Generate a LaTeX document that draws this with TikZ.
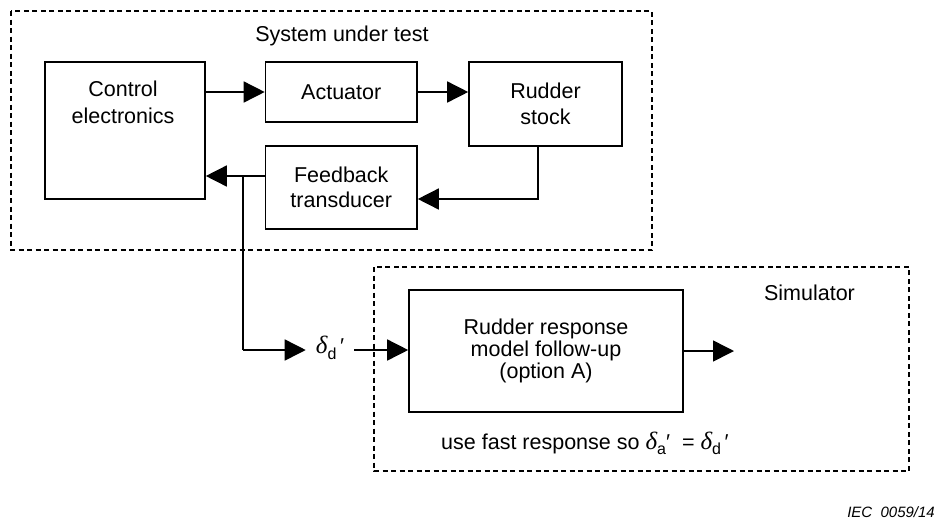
\documentclass[tikz,border=0pt]{standalone}
\usepackage{fontspec}
\setmainfont{Liberation Sans}
\newfontfamily\grk{Liberation Serif}
\usetikzlibrary{arrows.meta,calc}
\newcommand{\dsym}{{\grk\itshape\fontsize{25}{26}\selectfont δ}}
\begin{document}
\begin{tikzpicture}[x=1pt,y=-1pt,
  font=\fontsize{21.5}{26}\selectfont,
  blk/.style={draw,line width=1.6pt,inner sep=0pt,align=center},
  frame/.style={draw,line width=1.1pt,dash pattern=on 5pt off 3.5pt},
  arr/.style={line width=1.5pt,-{Triangle[length=21pt,width=21pt]}},
  conn/.style={line width=1.5pt},
  lbl/.style={inner sep=0pt,align=center}]
\useasboundingbox (0,0) rectangle (941,528);
% frames
\draw[frame] (11,11) rectangle (652,250);
\draw[frame] (374,267) rectangle (909,471);
\node[lbl] (sut) at (342,36) {System under test};
\node[lbl] (sim) at (809.5,293) {Simulator};
% blocks
\node[blk,minimum width=160pt,minimum height=137pt] (ce) at (125,130.5) {};
\node[lbl,font=\fontsize{21.5}{27}\selectfont] (cetxt) at (123,102.5) {Control\\electronics};
\node[blk,minimum width=151.5pt,minimum height=60pt] (act) at (341.25,92) {Actuator};
\node[blk,minimum width=153pt,minimum height=84pt] (rud) at (545.5,104) {Rudder\\stock};
\node[blk,minimum width=151.5pt,minimum height=83pt,font=\fontsize{21.5}{25}\selectfont] (fb) at (341.25,187.5) {Feedback\\transducer};
\node[blk,minimum width=274pt,minimum height=122pt,font=\fontsize{21.5}{22}\selectfont] (rr) at (546,351) {Rudder response\\model follow-up\\(option A)};
% label
\node[lbl,inner xsep=10pt,inner ysep=2pt] (dd) at (330,348) {\dsym\raisebox{-6pt}{\fontsize{16}{18}\selectfont d}\,′};
\node[lbl,anchor=west] (fast) at (441,443) {use fast response so \dsym\raisebox{-5pt}{\fontsize{16}{18}\selectfont a}′\ \ =\ \dsym\raisebox{-5pt}{\fontsize{16}{18}\selectfont d}\,′};
\node[lbl,anchor=east,font=\fontsize{15}{18}\selectfont\itshape] (iec) at (935,512) {IEC\ \ 0059/14};
% coordinates
\coordinate (rs) at (538,146);
\coordinate (rsb) at (538,199);
\coordinate (br) at (243,176);
\coordinate (brb) at (243,350);
\coordinate (out) at (734,351);
% connectors
\draw[arr] (ce.east |- act.west) -- (act.west);
\draw[arr] (act.east) -- (act.east -| rud.west);
\draw[arr] (rs) -- (rsb) -- (rsb -| fb.east);
\draw[arr] (br -| fb.west) -- (br -| ce.east);
\draw[conn] (br) -- (brb);
\draw[arr] (brb) -- (brb -| dd.west);
\draw[arr] (brb -| dd.east) -- (brb -| rr.west);
\draw[arr] (rr.east) -- (out);
\end{tikzpicture}
\end{document}
